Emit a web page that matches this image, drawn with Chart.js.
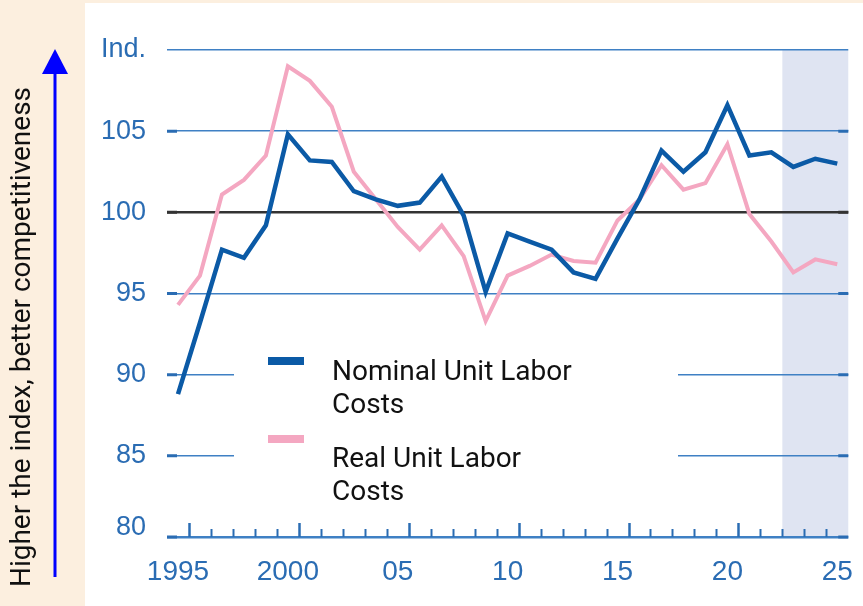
<!DOCTYPE html>
<html>
<head>
<meta charset="utf-8">
<script src="https://cdn.jsdelivr.net/npm/chart.js@4.4.1/dist/chart.umd.min.js"></script>
<style>
  html, body { margin: 0; padding: 0; background: #fcefdf; }
  #wrap { width: 863px; height: 606px; }
</style>
</head>
<body>
<div id="wrap"><canvas id="chart" width="863" height="606"></canvas></div>
<script>
const years = [1995, 1996, 1997, 1998, 1999, 2000, 2001, 2002, 2003, 2004,
               2005, 2006, 2007, 2008, 2009, 2010, 2011, 2012, 2013, 2014,
               2015, 2016, 2017, 2018, 2019, 2020, 2021, 2022, 2023, 2024, 2025];
const nominal = [88.8, 93.2, 97.7, 97.2, 99.2, 104.8, 103.2, 103.1, 101.3, 100.8,
                 100.4, 100.6, 102.2, 99.8, 95.1, 98.7, 98.2, 97.7, 96.3, 95.9,
                 98.4, 100.8, 103.8, 102.5, 103.7, 106.6, 103.5, 103.7, 102.8, 103.3, 103.0];
const real = [94.3, 96.1, 101.1, 102.0, 103.5, 109.0, 108.1, 106.5, 102.5, 100.8,
              99.1, 97.7, 99.2, 97.3, 93.3, 96.1, 96.7, 97.4, 97.0, 96.9,
              99.5, 100.8, 102.9, 101.4, 101.8, 104.2, 99.9, 98.2, 96.3, 97.1, 96.8];
const yTicks = [80, 85, 90, 95, 100, 105, 110];
const xLabelYears = [1995, 2000, 2005, 2010, 2015, 2020, 2025];
const forecastYears = [2023, 2024, 2025];
const seriesNames = ['Nominal Unit Labor Costs', 'Real Unit Labor Costs'];
const sideNote = 'Higher the index, better competitiveness';

const TXT_BLUE = '#2a6cb3';
const GRID_BLUE = '#3f80c4';
const NOM_COLOR = '#0b5aa6';
const REAL_COLOR = '#f4a7c1';
const Y_FONT = '27px "Liberation Sans"';

// fond, zone de prévision, légende, flèche
const decor = {
    id: 'decor',
    beforeDraw(chart) {
        const { ctx, chartArea: a, scales: { x } } = chart;
        ctx.save();
        ctx.fillStyle = '#fcefdf';
        ctx.fillRect(0, 0, chart.width, chart.height);
        ctx.fillStyle = '#ffffff';
        ctx.fillRect(85, 3, chart.width - 85, chart.height - 3);
        const x0 = x.getPixelForValue(forecastYears[0] - 0.5);
        const x1 = x.getPixelForValue(forecastYears[forecastYears.length - 1] + 0.5);
        ctx.fillStyle = '#dfe4f2';
        ctx.fillRect(x0, a.top, x1 - x0, a.bottom - a.top);
        ctx.restore();
    },
    beforeDatasetsDraw(chart) {
        const { ctx, chartArea: a, scales: { x, y } } = chart;
        ctx.save();
        // trou dans la grille derrière la légende
        ctx.fillStyle = '#ffffff';
        ctx.fillRect(234, 336, 444, 140);
        // petits traits épais aux bouts des lignes de grille
        yTicks.filter(v => v < 110).forEach(v => {
            const py = y.getPixelForValue(v);
            ctx.strokeStyle = v === 100 ? '#333333' : '#2a6cb3';
            ctx.lineWidth = 3;
            ctx.beginPath();
            ctx.moveTo(a.left, py); ctx.lineTo(a.left + 10, py);
            ctx.moveTo(a.right - 10, py); ctx.lineTo(a.right, py);
            ctx.stroke();
        });
        // graduations de l'axe x (fin de chaque année)
        ctx.strokeStyle = '#2a6cb3';
        years.slice(0, -1).forEach(yr => {
            const px = Math.round(x.getPixelForValue(yr + 0.5)) + 0.5;
            const major = yr % 5 === 0;
            ctx.lineWidth = major ? 2.5 : 2;
            ctx.beginPath();
            ctx.moveTo(px, a.bottom);
            ctx.lineTo(px, a.bottom - (major ? 14 : 8));
            ctx.stroke();
        });
        // le "80" est un peu remonté au-dessus de l'axe
        ctx.fillStyle = TXT_BLUE;
        ctx.font = Y_FONT;
        ctx.textAlign = 'right';
        ctx.textBaseline = 'middle';
        ctx.fillText(String(yTicks[0]), a.left - 21, y.getPixelForValue(yTicks[0]) - 9);
        ctx.restore();
    },
    afterDraw(chart) {
        const { ctx } = chart;
        ctx.save();
        // légende
        const rows = [[357, 380], [435, 467]];
        chart.data.datasets.forEach((ds, i) => {
            ctx.fillStyle = ds.borderColor;
            ctx.fillRect(268, rows[i][0], 36, 8);
            const cut = ds.label.lastIndexOf(' ');
            ctx.fillStyle = '#111111';
            ctx.font = '28px Roboto';
            ctx.textBaseline = 'alphabetic';
            ctx.textAlign = 'left';
            ctx.fillText(ds.label.slice(0, cut), 332, rows[i][1]);
            ctx.fillText(ds.label.slice(cut + 1), 332, rows[i][1] + 33);
        });
        // flèche
        ctx.strokeStyle = '#0000ff';
        ctx.fillStyle = '#0000ff';
        ctx.lineWidth = 3;
        ctx.beginPath();
        ctx.moveTo(55, 577); ctx.lineTo(55, 72);
        ctx.stroke();
        ctx.beginPath();
        ctx.moveTo(55, 49); ctx.lineTo(42, 74); ctx.lineTo(68, 74);
        ctx.closePath();
        ctx.fill();
        // texte vertical
        ctx.translate(23, 337);
        ctx.rotate(-Math.PI / 2);
        ctx.fillStyle = '#111111';
        ctx.font = '28px Roboto';
        ctx.textAlign = 'center';
        ctx.textBaseline = 'middle';
        ctx.fillText(sideNote, 0, 0);
        ctx.restore();
    }
};

new Chart(document.getElementById('chart'), {
    type: 'line',
    data: {
        datasets: [
            { label: seriesNames[0], data: years.map((yr, i) => ({ x: yr, y: nominal[i] })),
              borderColor: NOM_COLOR, borderWidth: 4.5, pointRadius: 0, tension: 0, order: 1 },
            { label: seriesNames[1], data: years.map((yr, i) => ({ x: yr, y: real[i] })),
              borderColor: REAL_COLOR, borderWidth: 4, pointRadius: 0, tension: 0, order: 2 }
        ]
    },
    options: {
        responsive: false,
        animation: false,
        events: [],
        layout: { padding: { top: 50, right: 9, left: 0, bottom: 0 } },
        plugins: { legend: { display: false }, tooltip: { enabled: false } },
        scales: {
            x: {
                type: 'linear', min: 1994.5, max: 2025.5,
                afterBuildTicks: s => { s.ticks = xLabelYears.map(v => ({ value: v })); },
                afterFit: s => { s.height = 69; },
                grid: { display: false },
                border: { display: false },
                ticks: {
                    autoSkip: false, maxRotation: 0, padding: 10,
                    color: TXT_BLUE, font: { family: 'Liberation Sans', size: 28 },
                    callback: v => v <= 2000 ? String(v) : String(v).slice(2)
                }
            },
            y: {
                min: 80, max: 110,
                afterBuildTicks: s => { s.ticks = yTicks.map(v => ({ value: v })); },
                afterFit: s => { s.width = 167; },
                border: { display: false },
                grid: {
                    drawTicks: false,
                    color: c => c.tick.value === 100 ? '#333333' : GRID_BLUE,
                    lineWidth: c => c.tick.value === 100 ? 2.5 : (c.tick.value === 80 ? 2.5 : 1.5)
                },
                ticks: {
                    padding: 21, color: TXT_BLUE,
                    font: { family: 'Liberation Sans', size: 27 },
                    callback: v => v === 110 ? 'Ind.' : (v === 80 ? '' : v)
                }
            }
        }
    },
    plugins: [decor]
});
</script>
</body>
</html>
